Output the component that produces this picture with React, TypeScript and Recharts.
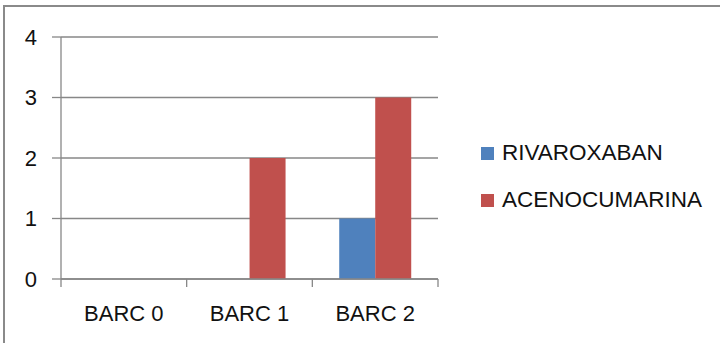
import React from "react";
import { BarChart, Bar, XAxis, YAxis, CartesianGrid } from "recharts";

const categories = ["BARC 0", "BARC 1", "BARC 2"];
const rivaroxaban = [0, 0, 1];
const acenocumarina = [0, 2, 3];
const yTicks = [0, 1, 2, 3, 4];

const seriesNames = ["RIVAROXABAN", "ACENOCUMARINA"];
const seriesColors = ["#4F81BD", "#C0504D"];
const seriesValues = [rivaroxaban, acenocumarina];

const data = categories.map((c, i) => {
  const row: Record<string, string | number> = { name: c };
  seriesNames.forEach((n, s) => {
    row[n] = seriesValues[s][i];
  });
  return row;
});

const W = 720;
const H = 343;
const margin = { top: 37, right: 282, bottom: 24, left: 0 };
const yAxisWidth = 61;
const xAxisHeight = 40;
const plotWidth = W - margin.left - margin.right - yAxisWidth;
const band = plotWidth / categories.length;
const FONT = "'Liberation Sans', Arial, sans-serif";
const AXIS = "#878787";
const TEXT = "#111";

const CategoryTick = (props: any) => {
  const { x, y, payload, index } = props;
  const left = x - band / 2;
  const right = x + band / 2;
  return (
    <g>
      <line x1={left} x2={left} y1={y - 8} y2={y} stroke={AXIS} strokeWidth={1.3} />
      {index === categories.length - 1 && (
        <line x1={right} x2={right} y1={y - 8} y2={y} stroke={AXIS} strokeWidth={1.3} />
      )}
      <text x={x} y={y} dy={34} textAnchor="middle" fontSize={22} fontFamily={FONT} fill={TEXT}>
        {payload.value}
      </text>
    </g>
  );
};

const LegendBox = () => (
  <div style={{ position: "absolute", left: 481, top: 140, fontFamily: FONT, fontSize: 22.5, color: TEXT }}>
    {seriesNames.map((n, i) => (
      <div key={n} style={{ display: "flex", alignItems: "center", height: 26, marginBottom: i === 0 ? 21 : 0 }}>
        <span style={{ display: "inline-block", width: 13, height: 13, background: seriesColors[i], marginRight: 8 }} />
        <span>{n}</span>
      </div>
    ))}
  </div>
);

export default function App() {
  return (
    <div style={{ position: "absolute", left: 0, top: 0, width: W, height: H, overflow: "hidden", background: "#fff" }}>
      <div
        style={{
          position: "absolute",
          left: 3,
          top: 5,
          width: W + 40,
          height: H + 40,
          border: "2px solid #8a8a8a",
          boxSizing: "border-box",
        }}
      />
      <div style={{ position: "absolute", left: 0, top: 0 }}>
        <BarChart width={W} height={H} data={data} margin={margin} barCategoryGap="21.4%" barGap={0}>
          <CartesianGrid vertical={false} stroke={AXIS} strokeWidth={1.3} />
          <XAxis
            dataKey="name"
            height={xAxisHeight}
            axisLine={{ stroke: AXIS, strokeWidth: 1.3 }}
            tickLine={false}
            tickSize={8}
            tickMargin={0}
            tick={<CategoryTick />}
            interval={0}
          />
          <YAxis
            width={yAxisWidth}
            domain={[0, 4]}
            ticks={yTicks}
            axisLine={{ stroke: AXIS, strokeWidth: 1.3 }}
            tickLine={{ stroke: AXIS, strokeWidth: 1.3 }}
            tickSize={9}
            tickMargin={15}
            tick={{ fontSize: 22, fontFamily: FONT, fill: TEXT }}
          />
          {seriesNames.map((n, i) => (
            <Bar key={n} dataKey={n} fill={seriesColors[i]} isAnimationActive={false} />
          ))}
        </BarChart>
      </div>
      <LegendBox />
    </div>
  );
}
